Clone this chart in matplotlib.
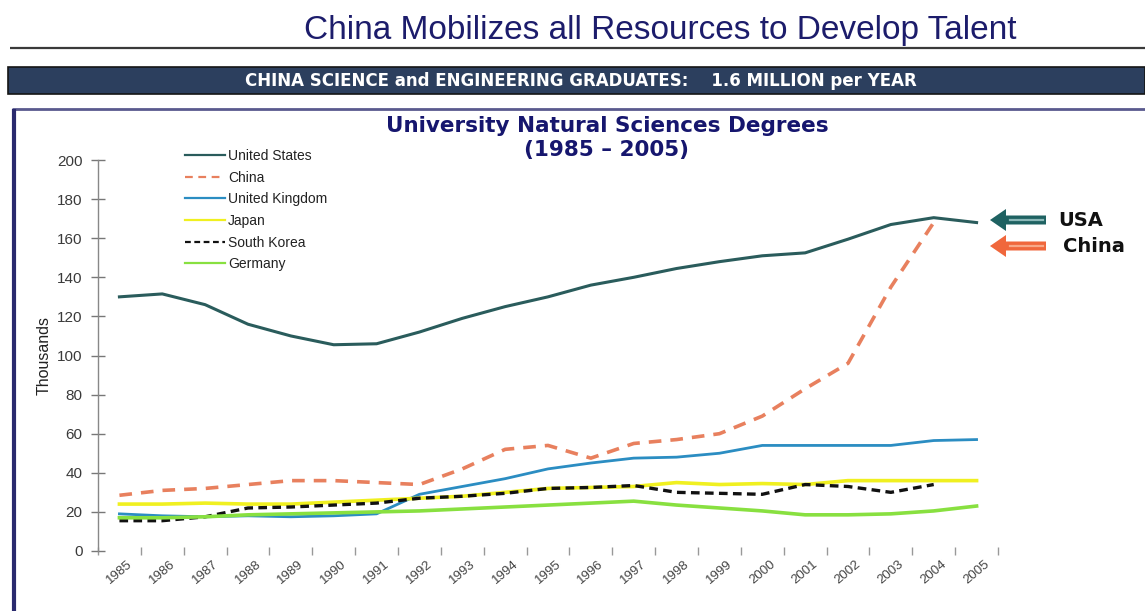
import matplotlib
matplotlib.use("Agg")
import matplotlib.pyplot as plt
from matplotlib.patches import Rectangle, FancyArrow

# ---- data (thousands of degrees) ----
years = [str(y) for y in range(1985, 2006)]
united_states = [130, 131.5, 126, 116, 110, 105.5, 106, 112, 119, 125, 130,
                 136, 140, 144.5, 148, 151, 152.5, 159.5, 167, 170.5, 168]
china = [28.5, 31, 32, 34, 36, 36, 35, 34, 42, 52, 54,
         47.5, 55, 57, 60, 69, 83, 96, 135, 168]
united_kingdom = [19, 18, 17.5, 18, 17.5, 18, 19, 29, 33, 37, 42,
                  45, 47.5, 48, 50, 54, 54, 54, 54, 56.5, 57]
japan = [24, 24, 24.5, 24, 24, 25, 26, 27, 28, 30, 32,
         32.5, 33, 35, 34, 34.5, 34, 36, 36, 36, 36]
south_korea = [15.5, 15.5, 17.5, 22, 22.5, 23.5, 24.5, 27, 28, 29.5, 32,
               32.5, 33.5, 30, 29.5, 29, 34, 33, 30, 34]
germany = [17, 17, 17.5, 18.5, 19, 19.5, 20, 20.5, 21.5, 22.5, 23.5,
           24.5, 25.5, 23.5, 22, 20.5, 18.5, 18.5, 19, 20.5, 23]
y_ticks = list(range(0, 201, 20))

W, H = 1145, 611
fig = plt.figure(figsize=(W / 100, H / 100), dpi=100)
fig.patch.set_facecolor("white")

# overlay axes in pixel coordinates for slide decorations
ov = fig.add_axes([0, 0, 1, 1], zorder=0)
ov.set_xlim(0, W)
ov.set_ylim(H, 0)
ov.axis("off")

ov.text(660, 30, "China Mobilizes all Resources to Develop Talent",
        ha="center", va="center", fontsize=24, color="#1c1c6b",
        family="Liberation Sans")
ov.plot([10, W], [48, 48], color="#3a3a3a", lw=1.6, solid_capstyle="butt")
ov.add_patch(Rectangle((8, 67), W - 8, 27, facecolor="#2c3f5e",
                       edgecolor="#151515", lw=1.2))
ov.text(581, 81, "CHINA SCIENCE and ENGINEERING GRADUATES:    1.6 MILLION per YEAR",
        ha="center", va="center", fontsize=12, color="white",
        fontweight="bold", family="DejaVu Sans")
ov.plot([12, W], [109, 109], color="#5a5a8e", lw=2, solid_capstyle="butt")
ov.plot([13.5, 13.5], [109, H], color="#2a2a6e", lw=3, solid_capstyle="butt")

ov.text(607, 126, "University Natural Sciences Degrees", ha="center",
        va="center", fontsize=15.5, fontweight="bold", color="#16166e",
        family="DejaVu Sans")
ov.text(607, 150, "(1985 \u2013 2005)", ha="center", va="center",
        fontsize=15.5, fontweight="bold", color="#16166e", family="DejaVu Sans")

# arrows
for yy, col, stripe, label, tx in [(220, "#1f6262", "#8ab8b8", "USA", 1058),
                                  (246, "#f0673c", "#f7a888", "China", 1063)]:
    ov.add_patch(FancyArrow(1046, yy, -56, 0, width=9, head_width=22,
                            head_length=16, length_includes_head=True,
                            color=col, lw=0))
    ov.plot([1010, 1043], [yy, yy], color=stripe, lw=1.6)
    ov.text(tx, yy, label, ha="left", va="center", fontsize=14,
            fontweight="bold", color="#111111", family="DejaVu Sans")

# ---- main chart ----
ax = fig.add_axes([98 / W, (H - 551) / H, 900 / W, 391 / H], zorder=1)
ax.set_facecolor("none")
x_all = list(range(len(years)))

ax.plot(x_all, united_states, color="#2a5c5c", lw=2.2, label="United States")
ax.plot(x_all[:len(china)], china, color="#e8805e", lw=2.6,
        dashes=(3.5, 2.5), label="China")
ax.plot(x_all, united_kingdom, color="#2b8dc2", lw=2.0, label="United Kingdom")
ax.plot(x_all, japan, color="#f0f020", lw=2.6, label="Japan")
ax.plot(x_all[:len(south_korea)], south_korea, color="#111111", lw=2.4,
        dashes=(2.6, 1.6), label="South Korea")
ax.plot(x_all, germany, color="#88e040", lw=2.6, label="Germany")

ax.set_xlim(-0.5, len(years) - 0.5)
ax.set_ylim(0, 200)
ax.set_yticks(y_ticks)
ax.set_yticklabels([str(v) for v in y_ticks], family="Liberation Sans",
                   fontsize=11, color="#3a3a3a")
ax.tick_params(axis="y", direction="inout", length=10, width=1,
               color="#777777", pad=6)

ax.set_xticks(x_all)
ax.set_xticklabels(years, rotation=40, ha="center", fontsize=9.5,
                   family="Liberation Sans", color="#444444")
ax.tick_params(axis="x", which="major", length=0, pad=5)
ax.set_xticks([i - 0.5 for i in range(len(years) + 1)], minor=True)
ax.tick_params(axis="x", which="minor", direction="inout", length=6,
               width=1, color="#999999")

for s in ["top", "right", "bottom"]:
    ax.spines[s].set_visible(False)
ax.spines["left"].set_color("#888888")
ax.spines["left"].set_linewidth(1)

ax.set_ylabel("Thousands", family="Liberation Sans", fontsize=11.5,
              color="#222222", labelpad=4)

leg = ax.legend(loc="upper left", bbox_to_anchor=(185 / W, 1 - 149 / H),
                bbox_transform=fig.transFigure, frameon=False,
                handlelength=2.9, handletextpad=0.2, labelspacing=0.55,
                borderpad=0, borderaxespad=0,
                prop={"family": "Liberation Sans", "size": 10})
for t in leg.get_texts():
    t.set_color("#222222")
for h in leg.get_lines():
    h.set_linewidth(1.6)

fig.savefig("out.png", dpi=100)
